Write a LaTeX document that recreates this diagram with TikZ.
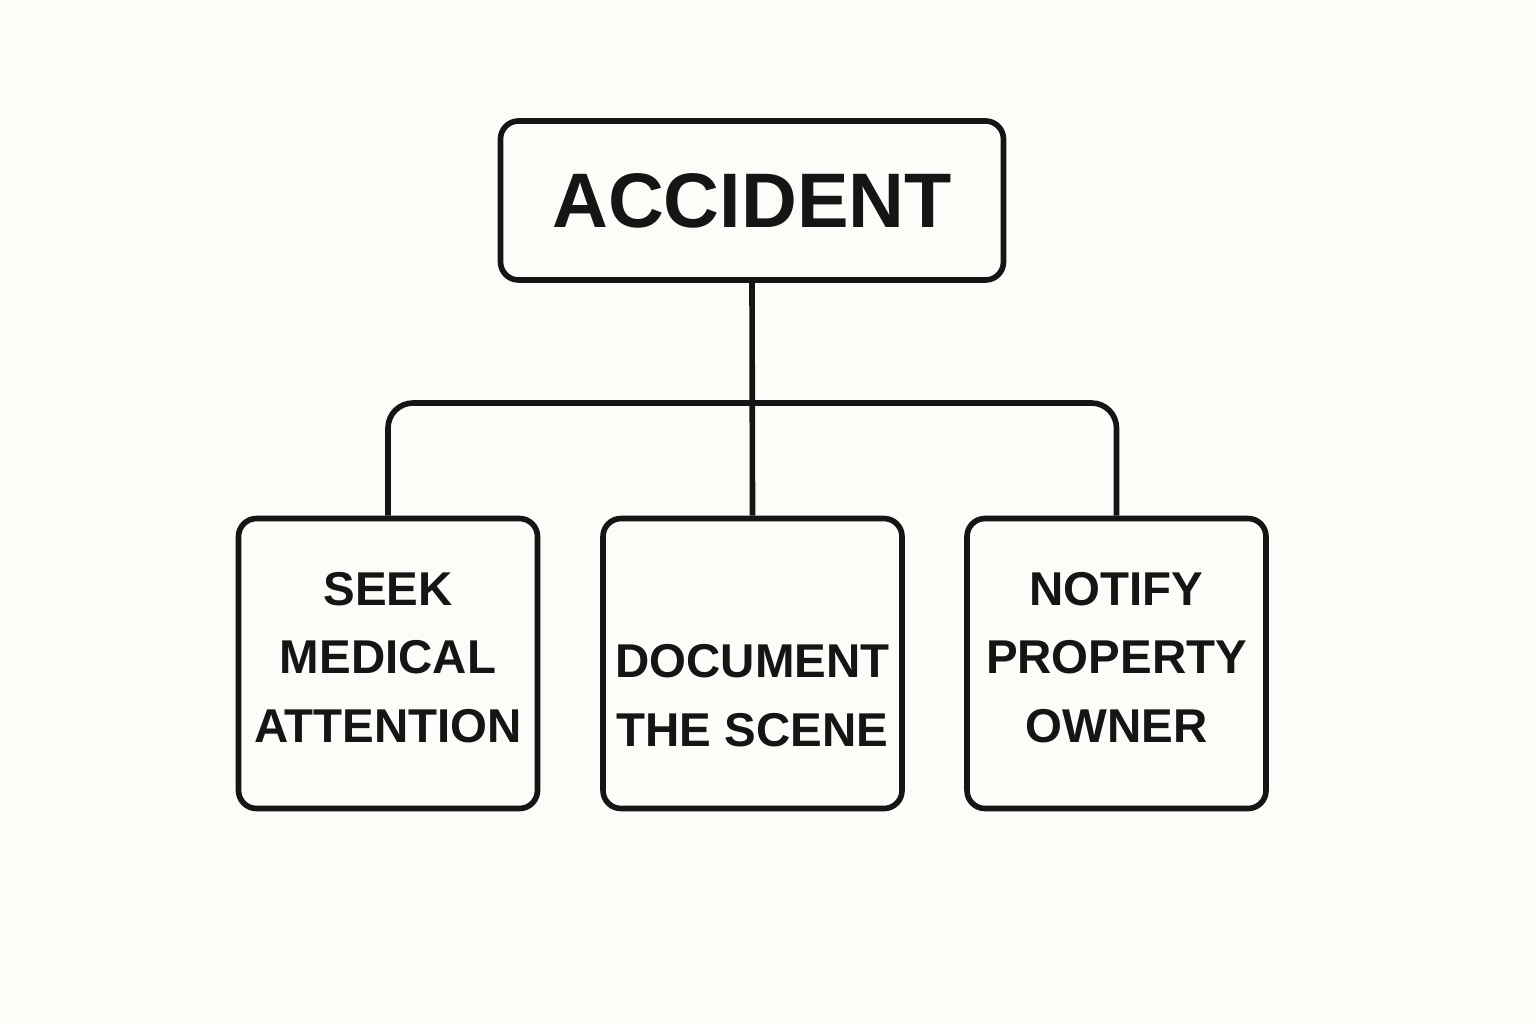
\documentclass[tikz,border=0pt]{standalone}
\usepackage{fontspec}
\setmainfont{Liberation Sans}
\usepackage{tikz}

\definecolor{paper}{HTML}{FCFCF8}
\definecolor{ink}{HTML}{151515}

\begin{document}
\begin{tikzpicture}
    \tikzstyle{every node}=[font=\bfseries, text=ink]
    \tikzstyle{box}=[draw=ink, line width=1.6pt, rounded corners=0.18cm, align=center]
    \tikzstyle{rootbox}=[box, minimum width=5.03cm, minimum height=1.59cm, font=\fontsize{22}{26}\bfseries]
    \tikzstyle{leaf}=[box, minimum width=2.99cm, minimum height=2.90cm, font=\fontsize{13.5}{19.5}\selectfont\bfseries]
    \tikzstyle{leaftext}=[font=\fontsize{13.5}{19.5}\selectfont\bfseries, align=center]
    \tikzstyle{link}=[draw=ink, line width=1.6pt]

    \fill[paper] (0,0) rectangle (15.36,10.24);
    \useasboundingbox (0,0) rectangle (15.36,10.24);

    \node[rootbox] (accident) at (7.52,8.235) {ACCIDENT};

    % leaf boxes, text set apart so it can sit off centre
    \node[leaf] (seek) at (3.88,3.605) {};
    \node[leaftext] at ([yshift=0.06cm]seek.center) {SEEK\\MEDICAL\\ATTENTION};
    \node[leaf] (document) at (7.525,3.605) {};
    \node[leaftext] at ([yshift=-0.32cm]document.center) {DOCUMENT\\THE SCENE};
    \node[leaf] (notify) at (11.165,3.605) {};
    \node[leaftext] at ([yshift=0.06cm]notify.center) {NOTIFY\\PROPERTY\\OWNER};

    \coordinate (bar) at (7.52,6.21);

    \draw[link] (accident.south) -- (document.north);
    \draw[link, rounded corners=0.25cm] (seek.north) |- (bar) -| (notify.north);

\end{tikzpicture}
\end{document}
